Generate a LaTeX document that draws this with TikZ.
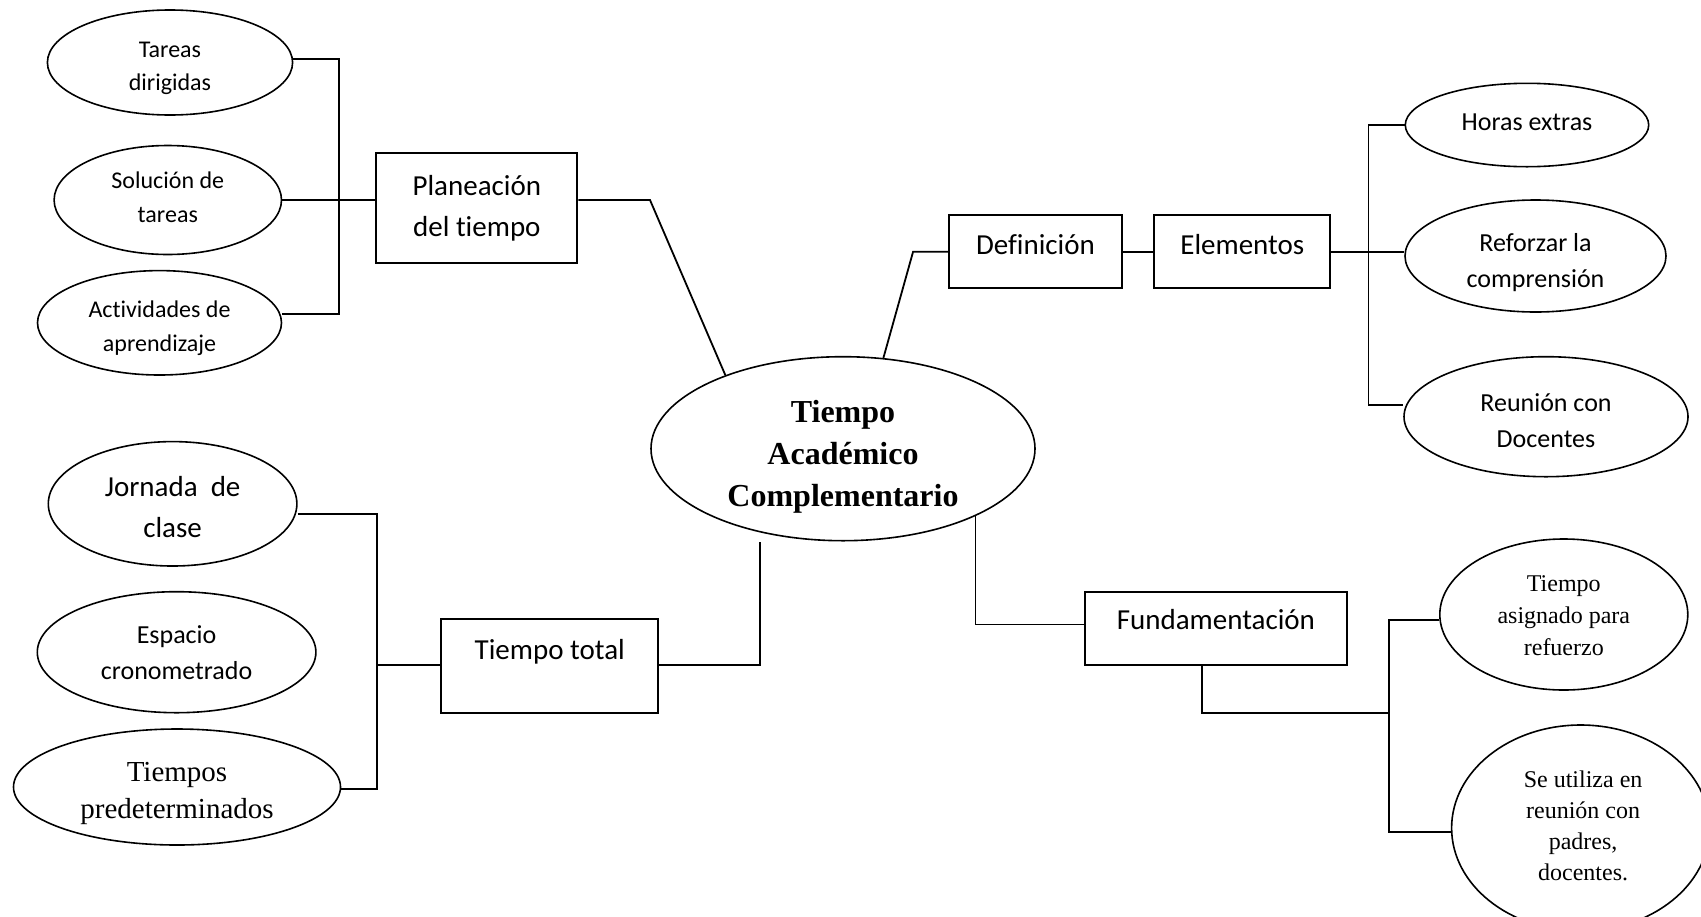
\documentclass[tikz,border=0pt]{standalone}
\usepackage{fontspec}
\setmainfont{Liberation Serif}
\newfontfamily\calib[Ligatures=NoCommon]{Carlito}
\usetikzlibrary{shapes.geometric}
\begin{document}
\begin{tikzpicture}[x=0.5pt,y=-0.5pt,
  ell/.style={draw, ellipse, line width=0.8pt, inner sep=0pt},
  lab/.style={align=center, inner sep=0pt},
  box/.style={draw, rectangle, line width=0.9pt, inner sep=0pt, align=center, font=\calib\fontsize{14.5}{20.7}\selectfont},
  con/.style={line width=0.9pt},
  smallcal/.style={font=\calib\fontsize{12}{16.8}\selectfont},
  midcal/.style={font=\calib\fontsize{13}{18}\selectfont},
  bigcal/.style={font=\calib\fontsize{14.5}{20.5}\selectfont}]
\clip (0,0) rectangle (1701,916);
% left top group
\node[ell, minimum width=122.6pt, minimum height=52.5pt,
  label={[lab, smallcal, name=tareasT, yshift=-2.95pt]center:{Tareas\\dirigidas}}] (tareas) at (170,62.5) {};
\node[ell, minimum width=113.7pt, minimum height=54.5pt,
  label={[lab, smallcal, name=solT, yshift=1.4pt]center:{Solución de\\tareas}}] (sol) at (167.8,200) {};
\node[ell, minimum width=122pt, minimum height=52.2pt,
  label={[lab, smallcal, name=activT, yshift=-2.7pt]center:{Actividades de\\aprendizaje}}] (activ) at (159.5,322.8) {};
\node[box, minimum width=100.5pt, minimum height=54.7pt] (plan) at (476.85,208) {Planeación\\del tiempo};
% left bottom group
\node[ell, minimum width=124.3pt, minimum height=62.2pt,
  label={[lab, bigcal, name=jornadaT, yshift=-1.65pt]center:{Jornada\ \ de\\clase}}] (jornada) at (172.6,503.8) {};
\node[ell, minimum width=139.3pt, minimum height=60.5pt,
  label={[lab, midcal, name=espacioT]center:{Espacio\\cronometrado}}] (espacio) at (176.6,652.2) {};
\node[ell, minimum width=163.5pt, minimum height=58pt,
  label={[lab, font=\fontsize{14.5}{18.5}\selectfont, name=tpredT, yshift=-3.25pt]center:{Tiempos\\predeterminados}}] (tpred) at (177,787) {};
\node[box, minimum width=108.5pt, minimum height=47pt, text height=10pt, text depth=17pt] (tt) at (549.75,666.3) {Tiempo total};
% central
\node[ell, minimum width=192pt, minimum height=92pt,
  label={[lab, font=\bfseries\fontsize{16}{21}\selectfont, name=centralT, yshift=-3.95pt]center:{Tiempo\\Académico\\Complementario}}] (central) at (843,448.7) {};
% right top
\node[box, minimum width=86.5pt, minimum height=36.65pt, text height=10pt, text depth=7pt] (def) at (1035.5,251.65) {Definición};
\node[box, minimum width=88pt, minimum height=36.65pt, text height=10pt, text depth=7pt] (elem) at (1242.3,251.65) {Elementos};
\node[ell, minimum width=121.7pt, minimum height=41.7pt,
  label={[lab, midcal, name=horasT, yshift=1.35pt]center:{Horas extras}}] (horas) at (1527,125) {};
\node[ell, minimum width=130.5pt, minimum height=56pt,
  label={[lab, midcal, name=reforzT, yshift=-3.25pt]center:{Reforzar la\\comprensión}}] (reforz) at (1535.5,256) {};
\node[ell, minimum width=142pt, minimum height=60pt,
  label={[lab, midcal, name=reunionT, yshift=-1.85pt]center:{Reunión con\\Docentes}}] (reunion) at (1546,416.7) {};
% right bottom
\node[box, minimum width=130.7pt, minimum height=36.8pt, text height=10pt, text depth=9pt] (fund) at (1215.9,628.5) {Fundamentación};
\node[ell, minimum width=124pt, minimum height=75.5pt,
  label={[lab, font=\fontsize{12}{16}\selectfont, name=tasigT, yshift=-0.65pt]center:{Tiempo\\asignado para\\refuerzo}}] (tasig) at (1563.8,614.5) {};
\node[ell, minimum width=129pt, minimum height=103pt,
  label={[lab, font=\fontsize{12}{15.5}\selectfont, name=seuT, yshift=1.25pt, xshift=1.25pt]center:{Se utiliza en\\reunión con\\padres,\\docentes.}}] (seu) at (1580.6,828) {};
% connectors left top
\coordinate (jA) at (339.3,200);
\draw[con] ([yshift=1.75pt]tareas.east) -| (jA);
\draw[con] ([yshift=4.25pt]activ.east) -| (jA);
\draw[con] (sol.east) -- (sol.east -| plan.west);
\coordinate (pk) at (650,200);
\draw[con] (plan.east |- sol.east) -- (pk) -- (central.148);
% connectors right top
\draw[con] (def.west) -- ++(-35,0) -- (central.66);
\draw[con] (def.east) -- (elem.west);
\coordinate (jE) at (1368.5,251.65);
\draw[con] (elem.east) -- (elem.east -| reforz.west);
\draw[con] (horas.west) -| (jE);
\draw[con] ([yshift=5.85pt]reunion.west) -| (jE);
% connectors right bottom
\draw[con] ([yshift=2pt]fund.west) -| (central.333);
\coordinate (jF) at (1389.1,713.3);
\draw[con] ([xshift=-7pt]fund.south) |- (jF);
\draw[con] ([yshift=-2.75pt]tasig.west) -| (jF);
\draw[con] ([yshift=-1.85pt]seu.west) -| (jF);
% connectors left bottom
\coordinate (jT) at (377.1,665);
\draw[con] (jT -| tt.west) -- (jT);
\draw[con] ([yshift=-5.25pt]jornada.east) -| (jT);
\draw[con] ([yshift=-1.15pt]tpred.east) -| (jT);
\draw[con] (jT -| tt.east) -| ([xshift=-41.65pt]central.south);
\end{tikzpicture}
\end{document}
